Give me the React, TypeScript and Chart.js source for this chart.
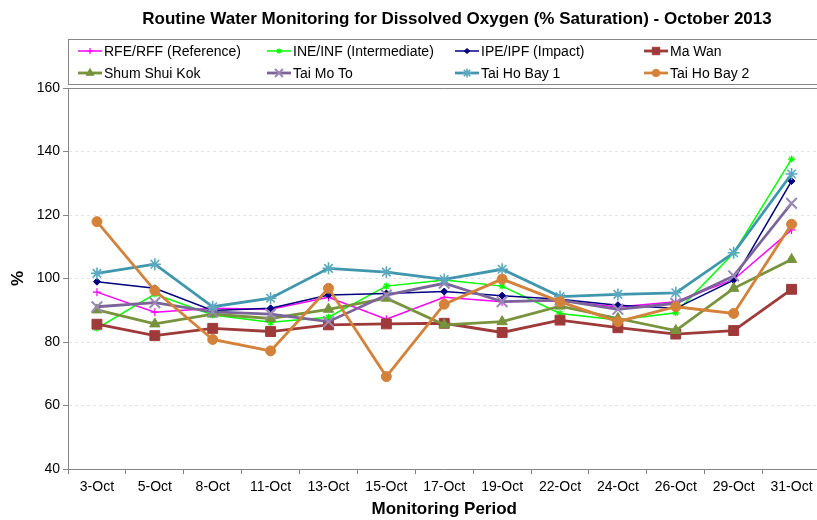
import React, { useEffect, useRef } from 'react';
import { Chart, registerables } from 'chart.js';
import { drawPoint } from 'chart.js/helpers';

Chart.register(...registerables);

const TITLE = 'Routine Water Monitoring for Dissolved Oxygen (% Saturation) - October 2013';
const X_TITLE = 'Monitoring Period';
const Y_TITLE = '%';

const categories = ['3-Oct', '5-Oct', '8-Oct', '11-Oct', '13-Oct', '15-Oct', '17-Oct', '19-Oct', '22-Oct', '24-Oct', '26-Oct', '29-Oct', '31-Oct'];

const rfeRff = [95.7, 89.4, 90.6, 90.3, 94.1, 87.2, 94.1, 92.7, 93.0, 91.0, 92.7, 99.7, 115.3];
const ineInf = [84.3, 95.1, 88.5, 86.2, 87.8, 97.6, 99.5, 97.6, 89.0, 86.9, 89.2, 108.0, 137.6];
const ipeIpf = [99.0, 96.9, 89.9, 90.6, 94.8, 95.3, 95.9, 94.6, 93.5, 91.6, 90.6, 99.5, 130.7];
const maWan = [85.6, 82.0, 84.3, 83.3, 85.4, 85.7, 85.9, 83.0, 86.9, 84.5, 82.5, 83.6, 96.6];
const shumShuiKok = [90.1, 85.7, 88.8, 87.4, 90.3, 93.8, 85.4, 86.4, 91.3, 87.4, 83.6, 96.9, 106.0];
const taiMoTo = [91.1, 92.4, 89.5, 88.8, 86.4, 94.8, 98.5, 92.7, 93.2, 90.3, 92.2, 100.8, 123.7];
const taiHoBay1 = [101.6, 104.5, 91.1, 93.8, 103.2, 102.0, 99.7, 102.9, 94.3, 95.0, 95.5, 108.1, 132.9];
const taiHoBay2 = [117.9, 96.2, 80.8, 77.2, 96.9, 69.1, 91.9, 99.8, 92.7, 86.4, 91.1, 89.0, 117.1];

const Y_MIN = 40;
const Y_MAX = 160;
const Y_STEP = 20;

const FONT = "'Liberation Sans', Arial, sans-serif";
const AXIS_GRAY = '#868686';

const seriesStyles = [
  { label: 'RFE/RFF (Reference)', data: rfeRff, color: '#FF00FF', pointColor: '#FF00FF', style: 'cross', radius: 4, width: 1.5, pbw: 1.2 },
  { label: 'INE/INF (Intermediate)', data: ineInf, color: '#00FF00', pointColor: '#00FF00', style: 'star', radius: 3.5, width: 1.5, pbw: 1.2 },
  { label: 'IPE/IPF (Impact)', data: ipeIpf, color: '#000080', pointColor: '#000080', style: 'rectRot', radius: 3.5, width: 1.5, pbw: 1 },
  { label: 'Ma Wan', data: maWan, color: '#9E3B3A', pointColor: '#9E3B3A', style: 'rect', radius: 7, width: 2.8, pbw: 1 },
  { label: 'Shum Shui Kok', data: shumShuiKok, color: '#77933C', pointColor: '#77933C', style: 'triangle', radius: 6, width: 2.8, pbw: 1 },
  { label: 'Tai Mo To', data: taiMoTo, color: '#7B649A', pointColor: '#9A88B4', style: 'crossRot', radius: 7.5, width: 2.8, pbw: 2 },
  { label: 'Tai Ho Bay 1', data: taiHoBay1, color: '#3F96AD', pointColor: '#5BA9C0', style: 'star', radius: 6, width: 2.8, pbw: 1.6 },
  { label: 'Tai Ho Bay 2', data: taiHoBay2, color: '#D4823A', pointColor: '#D4823A', style: 'circle', radius: 5, width: 2.8, pbw: 1 },
];

const decorPlugin = {
  id: 'decor',
  afterDraw(chart: any) {
    const ctx = chart.ctx as CanvasRenderingContext2D;
    ctx.save();
    // Title
    ctx.font = `bold 17px ${FONT}`;
    ctx.fillStyle = '#000';
    ctx.textAlign = 'center';
    ctx.textBaseline = 'middle';
    ctx.fillText(TITLE, 457, 19);

    // Legend box
    ctx.strokeStyle = AXIS_GRAY;
    ctx.lineWidth = 1;
    ctx.strokeRect(68.5, 39.5, 900, 45);

    const cols = [78, 267, 455, 644];
    const rows = [51, 73];
    chart.data.datasets.forEach((ds: any, i: number) => {
      const x = cols[i % 4];
      const y = rows[Math.floor(i / 4)];
      ctx.strokeStyle = ds.borderColor;
      ctx.lineWidth = ds.borderWidth;
      ctx.beginPath();
      ctx.moveTo(x, y);
      ctx.lineTo(x + 24, y);
      ctx.stroke();
      ctx.fillStyle = ds.pointBackgroundColor;
      ctx.strokeStyle = ds.pointBorderColor;
      ctx.lineWidth = ds.pointBorderWidth;
      drawPoint(ctx, { pointStyle: ds.pointStyle, radius: ds.pointRadius * 0.75, rotation: 0, borderWidth: ds.pointBorderWidth }, x + 12, y);
      ctx.fillStyle = '#000';
      ctx.font = `14px ${FONT}`;
      ctx.textAlign = 'left';
      ctx.textBaseline = 'middle';
      ctx.fillText(ds.label, x + 26, y + 1);
    });
    ctx.restore();
  },
};

export default function App() {
  const canvasRef = useRef<HTMLCanvasElement | null>(null);

  useEffect(() => {
    const canvas = canvasRef.current;
    if (!canvas) return;
    const n = seriesStyles.length;
    const chart = new Chart(canvas, {
      type: 'line',
      data: {
        labels: categories,
        datasets: seriesStyles.map((s, i) => ({
          label: s.label,
          data: s.data,
          borderColor: s.color,
          backgroundColor: s.pointColor,
          borderWidth: s.width,
          pointStyle: s.style as any,
          pointRadius: s.radius,
          pointBackgroundColor: s.pointColor,
          pointBorderColor: s.pointColor,
          pointBorderWidth: s.pbw,
          tension: 0,
          fill: false,
          order: n - 1 - i,
        })),
      },
      options: {
        responsive: false,
        animation: false,
        devicePixelRatio: 1,
        layout: { padding: { top: 88, left: 0, right: 6, bottom: 0 } },
        plugins: {
          legend: { display: false },
          title: { display: false },
          tooltip: { enabled: false },
        },
        scales: {
          x: {
            type: 'category',
            offset: true,
            afterFit: (scale: any) => { scale.height = 51; },
            grid: {
              offset: true,
              drawOnChartArea: false,
              drawTicks: true,
              tickLength: 5,
              tickColor: AXIS_GRAY,
            },
            border: { color: AXIS_GRAY, width: 1 },
            ticks: {
              font: { family: FONT, size: 14 },
              color: '#000',
              padding: 5,
              maxRotation: 0,
              autoSkip: false,
            },
            title: {
              display: true,
              text: X_TITLE,
              font: { family: FONT, size: 17, weight: 'bold' },
              color: '#000',
              padding: { top: 0, bottom: 0 },
            },
          },
          y: {
            min: Y_MIN,
            max: Y_MAX,
            afterFit: (scale: any) => { scale.width = 68; },
            grid: {
              color: (c: any) => (c.tick && c.tick.value === Y_MAX ? AXIS_GRAY : '#e4e4e4'),
              tickColor: AXIS_GRAY,
              tickLength: 5,
              lineWidth: 1,
            },
            border: {
              color: AXIS_GRAY,
              width: 1,
              dash: (c: any) => (c.tick && c.tick.value === Y_MAX ? [] : [3, 3]),
            },
            ticks: {
              stepSize: Y_STEP,
              font: { family: FONT, size: 14 },
              color: '#000',
              padding: 3,
            },
            title: {
              display: true,
              text: Y_TITLE,
              font: { family: FONT, size: 17, weight: 'bold' },
              color: '#000',
              padding: { top: 8, bottom: 0 },
            },
          },
        },
      },
      plugins: [decorPlugin],
    });
    return () => chart.destroy();
  }, []);

  return (
    <div style={{ position: 'fixed', left: 0, top: 0, width: 817, height: 520, overflow: 'hidden', background: '#fff' }}>
      <canvas ref={canvasRef} width={830} height={520} style={{ display: 'block', width: 830, height: 520 }} />
    </div>
  );
}
